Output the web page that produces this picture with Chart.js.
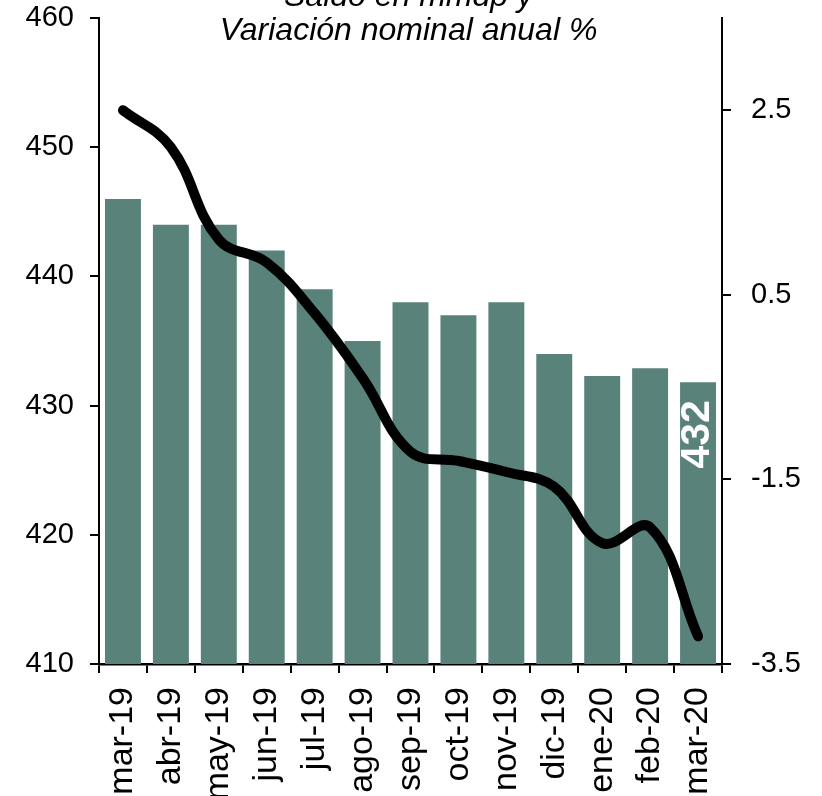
<!DOCTYPE html>
<html>
<head>
<meta charset="utf-8">
<script src="https://cdn.jsdelivr.net/npm/chart.js@4/dist/chart.umd.min.js"></script>
<style>
html,body{margin:0;padding:0;background:#fff;}
#wrap{width:822px;height:796px;}
</style>
</head>
<body>
<div id="wrap"><canvas id="c" width="822" height="796"></canvas></div>
<script>
const categories = ['mar-19','abr-19','may-19','jun-19','jul-19','ago-19','sep-19','oct-19','nov-19','dic-19','ene-20','feb-20','mar-20'];
const saldo = [446, 444, 444, 442, 439, 435, 438, 437, 438, 434, 432.3, 432.9, 431.8];
const variacion = [2.5, 2.1, 1.1, 0.85, 0.3, -0.4, -1.2, -1.3, -1.42, -1.58, -2.19, -2.02, -3.2];
const leftTicks = [410, 420, 430, 440, 450, 460];
const rightTicks = [-3.5, -1.5, 0.5, 2.5];
const titleLines = ['Saldo en mmdp y', 'Variación nominal anual %'];

const FONT = "'Liberation Sans', Arial, sans-serif";

const titlePlugin = {
  id: 'titleLines',
  afterDraw(chart) {
    const ctx = chart.ctx;
    const ca = chart.chartArea;
    ctx.save();
    ctx.fillStyle = '#000';
    ctx.font = 'italic 32px ' + FONT;
    ctx.textAlign = 'center';
    ctx.textBaseline = 'middle';
    const cx = (ca.left + ca.right) / 2 - 2;
    ctx.fillText(titleLines[0], cx, -3);
    ctx.fillText(titleLines[1], cx, 31);
    ctx.restore();
  }
};

const lastLabel = {
  id: 'lastLabel',
  afterDatasetsDraw(chart) {
    const meta = chart.getDatasetMeta(0);
    const i = saldo.length - 1;
    const el = meta.data[i];
    if (!el) return;
    const ctx = chart.ctx;
    ctx.save();
    ctx.translate(el.x, el.y + 52);
    ctx.rotate(-Math.PI / 2);
    ctx.fillStyle = '#fff';
    ctx.font = 'bold 41px ' + FONT;
    ctx.textAlign = 'center';
    ctx.textBaseline = 'middle';
    ctx.fillText(String(Math.round(saldo[i])), 0, 0);
    ctx.restore();
  }
};

new Chart(document.getElementById('c'), {
  type: 'bar',
  data: {
    labels: categories,
    datasets: [
      {
        type: 'bar',
        data: saldo,
        backgroundColor: '#58827A',
        borderWidth: 0,
        categoryPercentage: 1,
        barPercentage: 0.75,
        yAxisID: 'y',
        order: 1
      },
      {
        type: 'line',
        data: variacion,
        borderColor: '#000',
        borderWidth: 10,
        borderCapStyle: 'round',
        borderJoinStyle: 'round',
        pointRadius: 0,
        tension: 0.4,
        fill: false,
        yAxisID: 'y1',
        order: 0
      }
    ]
  },
  options: {
    responsive: false,
    devicePixelRatio: 1,
    animation: false,
    layout: { padding: { top: 18, left: 0, right: 0, bottom: 0 } },
    plugins: { legend: { display: false }, tooltip: { enabled: false }, title: { display: false } },
    scales: {
      x: {
        offset: true,
        grid: { display: true, drawOnChartArea: false, drawTicks: true, tickLength: 9, color: '#000', lineWidth: 2, offset: true },
        border: { display: true, color: '#000', width: 2.5 },
        ticks: { color: '#000', font: { family: FONT, size: 34 }, maxRotation: 90, minRotation: 90, padding: 14, autoSkip: false },
        afterFit(s) { s.height = 132; s.paddingLeft = 0; s.paddingRight = 0; }
      },
      y: {
        position: 'left',
        min: 410, max: 460,
        grid: { display: true, drawOnChartArea: false, drawTicks: true, tickLength: 9, color: '#000', lineWidth: 2 },
        border: { display: true, color: '#000', width: 2 },
        ticks: { color: '#000', font: { family: FONT, size: 29 }, padding: 16 },
        afterBuildTicks(s) { s.ticks = leftTicks.map(v => ({ value: v })); },
        afterFit(s) { s.width = 99; s.paddingTop = 0; s.paddingBottom = 0; }
      },
      y1: {
        position: 'right',
        min: -3.5, max: 3.5,
        grid: { display: true, drawOnChartArea: false, drawTicks: true, tickLength: 9, color: '#000', lineWidth: 2 },
        border: { display: true, color: '#000', width: 2 },
        ticks: { color: '#000', font: { family: FONT, size: 29 }, padding: 20,
          callback: v => Number(v).toFixed(1) },
        afterBuildTicks(s) { s.ticks = rightTicks.map(v => ({ value: v })); },
        afterFit(s) { s.width = 100; s.paddingTop = 0; s.paddingBottom = 0; }
      }
    }
  },
  plugins: [titlePlugin, lastLabel]
});
</script>
</body>
</html>
